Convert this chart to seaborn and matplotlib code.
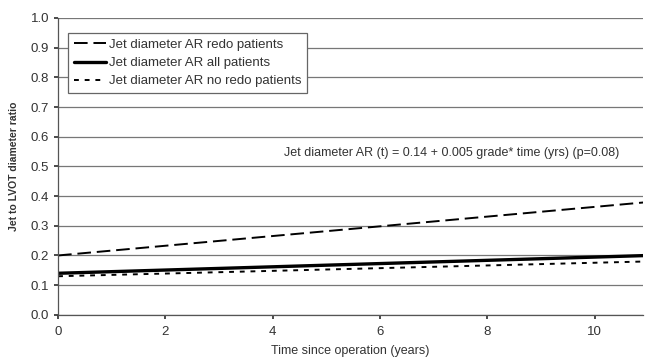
import matplotlib
matplotlib.use("Agg")
import matplotlib.pyplot as plt
import numpy as np
import pandas as pd
import seaborn as sns

# ── Data ─────────────────────────────────────────────────────────────────────
time_yrs = [0, 11]
redo = [0.20, 0.38]
all_patients = [0.14, 0.20]
no_redo = [0.13, 0.18]

series_names = [
    "Jet diameter AR redo patients",
    "Jet diameter AR all patients",
    "Jet diameter AR no redo patients",
]
x_ticks = [0, 2, 4, 6, 8, 10]
y_ticks = [0.0, 0.1, 0.2, 0.3, 0.4, 0.5, 0.6, 0.7, 0.8, 0.9, 1.0]

df = pd.DataFrame({
    "time": time_yrs * 3,
    "ratio": redo + all_patients + no_redo,
    "series": [s for s in series_names for _ in time_yrs],
})

sns.set_theme(style="white")
plt.rcParams["font.family"] = ["Liberation Sans", "DejaVu Sans"]

fig = plt.figure(figsize=(6.45, 3.59), dpi=100)
ax = fig.add_axes([0.09, 0.123, 0.907, 0.827])

for y in y_ticks:
    ax.axhline(y, color="#777777", lw=0.9, zorder=0)

styles = {
    series_names[0]: dict(ls=(0, (7, 3)), lw=1.4),
    series_names[1]: dict(ls="-", lw=2.4),
    series_names[2]: dict(ls=(0, (2.5, 3)), lw=1.4),
}
for name in series_names:
    sub = df[df["series"] == name]
    sns.lineplot(data=sub, x="time", y="ratio", ax=ax, color="black",
                 label=name, **styles[name])

ax.set_xlim(0, 10.9)
ax.set_ylim(0, 1.0)
ax.set_xticks(x_ticks)
ax.set_yticks(y_ticks)
ax.yaxis.set_major_formatter(matplotlib.ticker.FormatStrFormatter("%.1f"))
ax.tick_params(axis="both", labelsize=9.5, colors="#333333", length=3,
               direction="out", bottom=True, left=True)
ax.tick_params(axis="x", pad=5)

for side in ["top", "right"]:
    ax.spines[side].set_visible(False)
for side in ["left", "bottom"]:
    ax.spines[side].set_color("#555555")
    ax.spines[side].set_linewidth(0.9)

ax.set_xlabel("Time since operation (years)", fontsize=9, color="#333333",
              labelpad=5)
ax.set_ylabel("Jet to LVOT diameter ratio", fontsize=7.5, fontweight="bold",
              color="#333333", labelpad=8)

ax.text(7.33, 0.545, "Jet diameter AR (t) = 0.14 + 0.005 grade* time (yrs) (p=0.08)",
        fontsize=9, color="#333333", ha="center", va="center",
        bbox=dict(facecolor="white", edgecolor="none", pad=1.5))

leg = ax.legend(loc="upper left", bbox_to_anchor=(0.017, 0.95), fontsize=9.5,
                frameon=True, fancybox=False, handlelength=2.4,
                borderpad=0.45, labelspacing=0.45, handletextpad=0.25,
                borderaxespad=0)
leg.get_frame().set_edgecolor("#666666")
leg.get_frame().set_linewidth(0.9)
leg.get_frame().set_alpha(1)
for t in leg.get_texts():
    t.set_color("#333333")

fig.savefig("out.png", dpi=100)
